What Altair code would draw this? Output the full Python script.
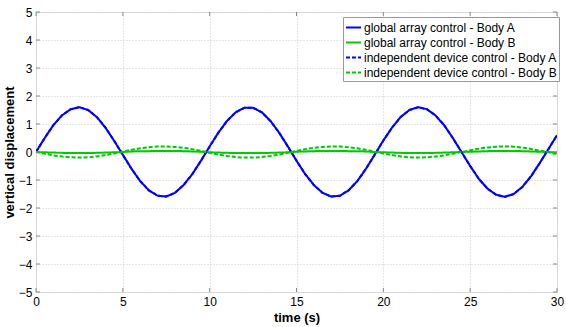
import altair as alt
import pandas as pd

# time grid (s)
time_s = [i * 0.5 for i in range(61)]

global_A = [0, 0.50, 0.96, 1.31, 1.53, 1.60, 1.50, 1.25, 0.87, 0.40, -0.10, -0.60, -1.04, -1.37, -1.56,
            -1.59, -1.46, -1.18, -0.79, -0.31, 0.20, 0.69, 1.11, 1.42, 1.58, 1.58, 1.42, 1.11, 0.69, 0.20,
            -0.31, -0.79, -1.18, -1.46, -1.59, -1.56, -1.37, -1.04, -0.60, -0.10, 0.41, 0.87, 1.25, 1.50,
            1.60, 1.53, 1.31, 0.96, 0.50, 0.00, -0.50, -0.96, -1.31, -1.53, -1.60, -1.50, -1.25, -0.87,
            -0.40, 0.10, 0.60]
global_B = [0, -0.01, -0.02, -0.03, -0.04, -0.04, -0.04, -0.03, -0.02, -0.01, 0.00, 0.02, 0.03, 0.03,
            0.04, 0.04, 0.04, 0.03, 0.02, 0.01, -0.01, -0.02, -0.03, -0.04, -0.04, -0.04, -0.04, -0.03,
            -0.02, -0.01, 0.01, 0.02, 0.03, 0.04, 0.04, 0.04, 0.03, 0.03, 0.02, 0.00, -0.01, -0.02, -0.03,
            -0.04, -0.04, -0.04, -0.03, -0.02, -0.01, 0.00, 0.01, 0.02, 0.03, 0.04, 0.04, 0.04, 0.03, 0.02,
            0.01, 0.00, -0.02]
indep_A = list(global_A)
indep_B = [0, -0.06, -0.12, -0.16, -0.19, -0.20, -0.19, -0.16, -0.11, -0.05, 0.01, 0.08, 0.13, 0.17,
           0.20, 0.20, 0.18, 0.15, 0.10, 0.04, -0.03, -0.09, -0.14, -0.18, -0.20, -0.20, -0.18, -0.14,
           -0.09, -0.03, 0.04, 0.10, 0.15, 0.18, 0.20, 0.20, 0.17, 0.13, 0.08, 0.01, -0.05, -0.11, -0.16,
           -0.19, -0.20, -0.19, -0.16, -0.12, -0.06, 0.00, 0.06, 0.12, 0.16, 0.19, 0.20, 0.19, 0.16, 0.11,
           0.05, -0.01, -0.08]

series_names = ["global array control - Body A", "global array control - Body B",
                "independent device control - Body A", "independent device control - Body B"]
series_values = [global_A, global_B, indep_A, indep_B]
series_colors = ["#0000ff", "#00c800", "#0000ff", "#00c800"]
series_dashes = [[1, 0], [1, 0], [4, 2], [4, 2]]

x_ticks = [0, 5, 10, 15, 20, 25, 30]
y_ticks = [-5, -4, -3, -2, -1, 0, 1, 2, 3, 4, 5]

rows = []
for si, (name, vals) in enumerate(zip(series_names, series_values)):
    for t, v in zip(time_s, vals):
        rows.append({"series": name, "order": si, "t": t, "v": v})
df = pd.DataFrame(rows)

W, H = 521, 280
axis_color = "#8a8a8a"
font = "Liberation Sans"

xscale = alt.Scale(domain=[0, 30], nice=False, zero=False)
yscale = alt.Scale(domain=[-5, 5], nice=False, zero=False)

xaxis = alt.Axis(values=x_ticks, title="time (s)", grid=True, gridDash=[1, 2], gridColor="#cccccc",
                 tickSize=0, labelPadding=4, labelFontSize=12, labelColor="#000", labelFont=font,
                 titleFont=font, titleFontSize=13, titleFontWeight="bold", titleColor="#000",
                 titlePadding=4, domain=False, labelFlush=False)
yaxis = alt.Axis(values=y_ticks, title="vertical displacement", grid=True, gridDash=[1, 2],
                 gridColor="#cccccc", tickSize=0, labelPadding=4, labelFontSize=12, labelColor="#000",
                 labelFont=font, titleFont=font, titleFontSize=13, titleFontWeight="bold",
                 titleColor="#000", titlePadding=2, domain=False, labelFlush=False)

lines = alt.Chart(df).mark_line(strokeWidth=2, clip=True).encode(
    x=alt.X("t:Q", scale=xscale, axis=xaxis),
    y=alt.Y("v:Q", scale=yscale, axis=yaxis),
    color=alt.Color("series:N", title=None,
                    scale=alt.Scale(domain=series_names, range=series_colors),
                    legend=alt.Legend(orient="none", legendX=307, legendY=5, symbolType="stroke",
                                      symbolSize=225, symbolStrokeWidth=2, labelFontSize=12,
                                      labelFont=font, labelColor="#000", labelOffset=2,
                                      rowPadding=0, padding=2, strokeColor="#999999",
                                      fillColor="#ffffff", labelLimit=400)),
    strokeDash=alt.StrokeDash("series:N", title=None,
                              scale=alt.Scale(domain=series_names, range=series_dashes)),
    order="order:Q",
)

ydf = pd.DataFrame({"val": y_ticks})
xdf = pd.DataFrame({"val": x_ticks})
tick_left = alt.Chart(ydf).mark_rule(color=axis_color, strokeWidth=1).encode(
    y=alt.Y("val:Q", scale=yscale, axis=yaxis), x=alt.value(0), x2=alt.value(4))
tick_right = alt.Chart(ydf).mark_rule(color=axis_color, strokeWidth=1).encode(
    y=alt.Y("val:Q", scale=yscale, axis=yaxis), x=alt.value(W - 4), x2=alt.value(W))
tick_bottom = alt.Chart(xdf).mark_rule(color=axis_color, strokeWidth=1).encode(
    x=alt.X("val:Q", scale=xscale, axis=xaxis), y=alt.value(H - 4), y2=alt.value(H))
tick_top = alt.Chart(xdf).mark_rule(color=axis_color, strokeWidth=1).encode(
    x=alt.X("val:Q", scale=xscale, axis=xaxis), y=alt.value(0), y2=alt.value(4))

chart = alt.layer(lines, tick_left, tick_right, tick_bottom, tick_top).properties(
    width=W, height=H,
    autosize=alt.AutoSizeParams(type="none"),
    padding={"left": 36, "top": 12, "right": 9, "bottom": 35},
    background="#ffffff",
).configure_view(stroke=axis_color, strokeWidth=1).configure(font=font)

chart.save("out.html", embed_options={"renderer": "svg", "actions": False})
